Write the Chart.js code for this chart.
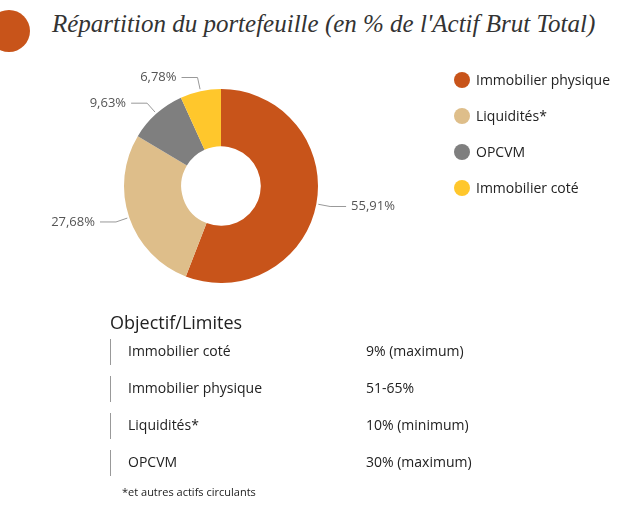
<!DOCTYPE html>
<html><head><meta charset="utf-8">
<script src="https://cdn.jsdelivr.net/npm/chart.js@4"></script>
<style>
body{margin:0;background:#fff;font-family:"Open Sans",sans-serif;color:#222}
#wrap{position:relative;width:637px;height:510px;overflow:hidden}
#c{position:absolute;left:0;top:0}
.dot{position:absolute;left:-12px;top:10px;width:42px;height:42px;border-radius:50%;background:#C8541A}
h1{position:absolute;left:52px;top:10px;margin:0;font:italic 25px "Liberation Serif",serif;color:#333;white-space:nowrap;font-weight:normal}
.leg{position:absolute;left:454px;font-size:14px;display:flex;align-items:center}
.leg i{width:16px;height:16px;border-radius:50%;display:inline-block;margin-right:6px}
.t{position:absolute;font-size:14px}
.bar{position:absolute;left:110px;width:1px;height:26px;background:#999}
</style></head><body>
<div id="wrap">
<div class="dot"></div>
<h1>Répartition du portefeuille (en % de l'Actif Brut Total)</h1>
<canvas id="c" width="637" height="510"></canvas>
<div id="legend"></div>
<div class="t" style="left:110px;top:310px;font-size:18px">Objectif/Limites</div>
<div id="table"></div>
<div class="t" style="left:122px;top:484px;font-size:11px">*et autres actifs circulants</div>
</div>
<script>
const categories = ['Immobilier physique', 'Liquidités*', 'OPCVM', 'Immobilier coté'];
const values = [55.91, 27.68, 9.63, 6.78];
const colors = ['#C8541A', '#DEBE8A', '#7F7F7F', '#FFC72C'];
const limitNames = ['Immobilier coté', 'Immobilier physique', 'Liquidités*', 'OPCVM'];
const limitValues = ['9% (maximum)', '51-65%', '10% (minimum)', '30% (maximum)'];

let legendHtml = '';
categories.forEach((c, i) => {
  legendHtml += `<div class="leg" style="top:${70 + i * 36}px"><i style="background:${colors[i]}"></i>${c}</div>`;
});
document.getElementById('legend').innerHTML = legendHtml;

let tableHtml = '';
limitNames.forEach((n, i) => {
  const y = 341 + i * 37;
  tableHtml += `<div class="bar" style="top:${y - 2}px"></div>
  <div class="t" style="left:128px;top:${y}px">${n}</div>
  <div class="t" style="left:366px;top:${y}px">${limitValues[i]}</div>`;
});
document.getElementById('table').innerHTML = tableHtml;

// Etiquettes avec lignes de rappel
const labelPlugin = {
  id: 'labels',
  afterDatasetsDraw(chart) {
    const ctx = chart.ctx;
    const meta = chart.getDatasetMeta(0);
    ctx.save();
    ctx.font = '13px "Open Sans"';
    ctx.fillStyle = '#555';
    ctx.strokeStyle = '#999';
    ctx.lineWidth = 1;
    meta.data.forEach((arc, i) => {
      const a = (arc.startAngle + arc.endAngle) / 2;
      const r = arc.outerRadius;
      const x0 = arc.x + Math.cos(a) * (r + 2), y0 = arc.y + Math.sin(a) * (r + 2);
      const x1 = arc.x + Math.cos(a) * (r + 14), y1 = arc.y + Math.sin(a) * (r + 14);
      const right = Math.cos(a) >= 0;
      const x2 = x1 + (right ? 16 : -16);
      ctx.beginPath(); ctx.moveTo(x0, y0); ctx.lineTo(x1, y1); ctx.lineTo(x2, y1); ctx.stroke();
      ctx.textAlign = right ? 'left' : 'right';
      ctx.textBaseline = 'middle';
      ctx.fillText(values[i].toFixed(2).replace('.', ',') + '%', x2 + (right ? 5 : -5), y1);
    });
    ctx.restore();
  }
};

new Chart(document.getElementById('c'), {
  type: 'doughnut',
  data: { labels: categories, datasets: [{ data: values, backgroundColor: colors, borderWidth: 0 }] },
  options: {
    responsive: false, animation: false, cutout: '41%',
    layout: { padding: { left: 124, right: 319, top: 89, bottom: 227 } },
    plugins: { legend: { display: false }, tooltip: { enabled: false } }
  },
  plugins: [labelPlugin]
});
</script>
</body></html>
